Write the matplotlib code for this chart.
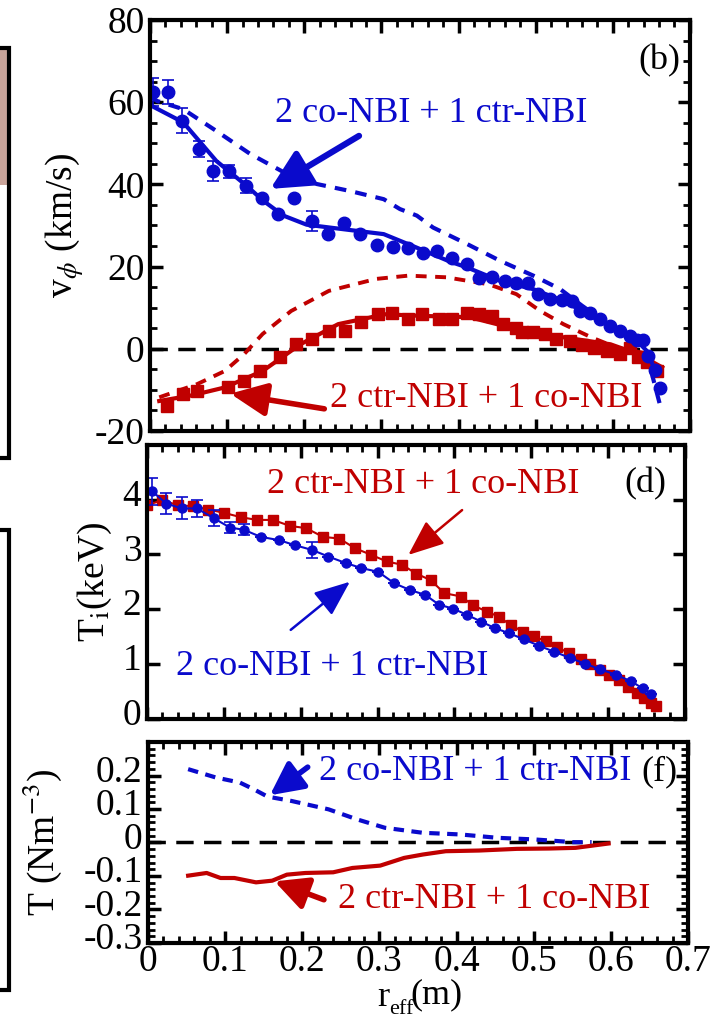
import matplotlib
matplotlib.use("Agg")
import matplotlib.pyplot as plt
from matplotlib.patches import Rectangle
from matplotlib.transforms import ScaledTranslation
from matplotlib.ticker import MultipleLocator

plt.rcParams['font.family'] = ['Liberation Serif', 'DejaVu Serif']
plt.rcParams['mathtext.fontset'] = 'stix'
plt.rcParams['axes.unicode_minus'] = False

BLUE = '#0a0acc'
RED = '#c00000'

# ---- panel (b): toroidal rotation ----
vb_r = [0.004, 0.024, 0.042, 0.063, 0.082, 0.103, 0.124, 0.145, 0.166, 0.187,
        0.210, 0.231, 0.251, 0.272, 0.294, 0.315, 0.334, 0.354, 0.372, 0.391,
        0.411, 0.426, 0.443, 0.460, 0.475, 0.490, 0.503, 0.519, 0.534, 0.547,
        0.557, 0.570, 0.583, 0.596, 0.609, 0.622, 0.631, 0.639, 0.646, 0.655, 0.661]
vb_v = [62.5, 62.5, 55.5, 48.6, 43.2, 43.2, 39.7, 36.7, 32.9, 36.8,
        31.1, 27.9, 30.7, 27.9, 25.2, 24.8, 24.6, 23.4, 23.8, 22.2,
        20.6, 17.2, 17.5, 16.4, 16.1, 15.9, 13.3, 12.1, 11.9, 11.7,
        9.2, 8.6, 7.2, 5.6, 4.4, 3.2, 2.1, 2.1, -1.7, -5.2, -9.6]
vb_err = [3.4, 2.9, 3.1, 2.0, 2.4, 1.6, 1.9, 0, 0, 0,
          2.4, 0, 0, 0, 0, 0, 0, 0, 0, 0,
          0, 0, 0, 0, 0, 0, 0, 0, 0, 0,
          0, 0, 0, 0, 0, 0, 0, 0, 0, 0, 0]

vr_r = [0.022, 0.043, 0.061, 0.101, 0.122, 0.143, 0.168, 0.189, 0.210, 0.232,
        0.253, 0.273, 0.296, 0.314, 0.335, 0.353, 0.375, 0.391, 0.411, 0.426,
        0.444, 0.458, 0.474, 0.482, 0.497, 0.512, 0.527, 0.544, 0.560, 0.575,
        0.592, 0.609, 0.622, 0.633, 0.644, 0.657]
vr_v = [-13.9, -11.0, -10.2, -9.4, -7.8, -5.5, -2.1, 1.1, 2.4, 4.4,
        4.4, 6.4, 8.4, 8.8, 7.2, 8.4, 7.2, 7.2, 8.8, 8.4,
        8.0, 6.1, 5.0, 4.0, 4.0, 3.6, 2.4, 1.9, 1.0, 0.3,
        -0.5, -1.3, 0.3, -2.1, -3.3, -5.3]

fitb_r = [0.0, 0.043, 0.086, 0.125, 0.147, 0.173, 0.203, 0.259, 0.303, 0.346,
          0.389, 0.411, 0.454, 0.497, 0.540, 0.583, 0.627, 0.644, 0.657]
fitb_v = [59.3, 55.1, 45.7, 39.7, 36.0, 32.4, 30.2, 28.9, 27.9, 24.6,
          21.2, 19.8, 16.5, 14.5, 11.3, 6.8, 2.8, -0.5, -6.2]

predb_r = [0.0, 0.009, 0.043, 0.086, 0.130, 0.173, 0.216, 0.259, 0.303, 0.324,
           0.346, 0.367, 0.411, 0.454, 0.497, 0.532, 0.560, 0.590, 0.620, 0.645, 0.661]
predb_v = [61.5, 60.3, 58.3, 53.0, 47.4, 43.0, 40.1, 38.4, 36.4, 34.0,
           32.4, 29.5, 25.5, 21.4, 17.8, 14.5, 10.5, 6.5, 3.0, -2.0, -13.5]

fitr_r = [0.012, 0.055, 0.097, 0.146, 0.195, 0.244, 0.305, 0.353, 0.414, 0.475,
          0.536, 0.597, 0.633, 0.664]
fitr_v = [-12.7, -11.3, -9.4, -5.4, 1.1, 6.0, 8.4, 8.0, 7.7, 4.8,
          2.8, 1.1, -1.3, -4.5]

predr_r = [0.012, 0.061, 0.097, 0.122, 0.146, 0.183, 0.232, 0.293, 0.335, 0.384,
           0.439, 0.475, 0.506, 0.536, 0.572, 0.605, 0.640]
predr_v = [-11.8, -8.6, -5.4, -1.3, 3.6, 9.2, 14.1, 17.0, 17.8, 17.4,
           15.7, 13.3, 9.2, 6.0, 2.8, 0.3, -1.0]

# ---- panel (d): ion temperature ----
tr_r = [0.0, 0.02, 0.04, 0.06, 0.08, 0.10, 0.122, 0.143, 0.164, 0.186,
        0.207, 0.229, 0.25, 0.271, 0.292, 0.312, 0.332, 0.35, 0.369, 0.387,
        0.409, 0.424, 0.443, 0.458, 0.473, 0.489, 0.504, 0.519, 0.534, 0.549,
        0.565, 0.577, 0.589, 0.601, 0.614, 0.626, 0.638, 0.647, 0.656, 0.662]
tr_t = [3.90, 3.99, 3.90, 3.88, 3.82, 3.76, 3.68, 3.63, 3.63, 3.52,
        3.48, 3.32, 3.29, 3.11, 2.99, 2.87, 2.81, 2.65, 2.53, 2.29,
        2.23, 2.07, 1.95, 1.86, 1.71, 1.59, 1.50, 1.41, 1.31, 1.19,
        1.08, 1.00, 0.89, 0.80, 0.70, 0.58, 0.46, 0.37, 0.28, 0.22]

tb_r = [0.007, 0.025, 0.045, 0.065, 0.087, 0.108, 0.126, 0.148, 0.172, 0.192,
        0.215, 0.236, 0.259, 0.279, 0.301, 0.322, 0.342, 0.362, 0.380, 0.398,
        0.417, 0.435, 0.453, 0.471, 0.490, 0.510, 0.530, 0.550, 0.570, 0.590,
        0.610, 0.630, 0.645, 0.656]
tb_t = [4.15, 3.93, 3.84, 3.84, 3.66, 3.49, 3.45, 3.32, 3.26, 3.17,
        3.08, 2.96, 2.84, 2.75, 2.68, 2.47, 2.35, 2.26, 2.08, 2.01,
        1.89, 1.77, 1.65, 1.56, 1.45, 1.33, 1.22, 1.11, 1.00, 0.90,
        0.80, 0.68, 0.55, 0.45]
tb_err = [0.25, 0.2, 0.2, 0.15, 0.15, 0.1, 0.1, 0, 0, 0,
          0.15, 0, 0, 0, 0, 0, 0, 0, 0, 0,
          0, 0, 0, 0, 0, 0, 0, 0, 0, 0,
          0, 0, 0, 0]

# ---- panel (f): torque ----
qb_r = [0.052, 0.088, 0.119, 0.137, 0.155, 0.186, 0.234, 0.271, 0.307, 0.356,
        0.405, 0.453, 0.502, 0.551, 0.575]
qb_t = [0.219, 0.194, 0.179, 0.159, 0.137, 0.124, 0.099, 0.069, 0.044, 0.029,
        0.024, 0.014, 0.009, 0.001, 0.001]

qr_r = [0.052, 0.076, 0.094, 0.112, 0.140, 0.161, 0.180, 0.204, 0.240, 0.265,
        0.301, 0.332, 0.356, 0.386, 0.429, 0.478, 0.520, 0.554, 0.597]
qr_t = [-0.099, -0.091, -0.106, -0.106, -0.119, -0.114, -0.096, -0.091, -0.089, -0.076,
        -0.069, -0.046, -0.036, -0.026, -0.024, -0.019, -0.018, -0.016, -0.003]

LBL_CO = '2 co-NBI + 1 ctr-NBI'
LBL_CTR = '2 ctr-NBI + 1 co-NBI'
FS = 26
W, H = 727, 1018


def style_axes(ax, ymajor, yminor):
    for s in ax.spines.values():
        s.set_linewidth(3)
    ax.set_xlim(0, 0.7)
    ax.xaxis.set_major_locator(MultipleLocator(0.1))
    ax.xaxis.set_minor_locator(MultipleLocator(0.02))
    ax.yaxis.set_major_locator(MultipleLocator(ymajor))
    if yminor:
        ax.yaxis.set_minor_locator(MultipleLocator(yminor))
    ax.tick_params(which='both', direction='in', top=True, right=True, labelsize=27)
    ax.tick_params(which='major', length=9, width=2.5, pad=4)
    ax.tick_params(which='minor', length=5, width=2)


def arrow(ax, tail, head, color, lw, hl, hw):
    ax.annotate('', xy=head, xytext=tail,
                arrowprops=dict(arrowstyle=f'-|>,head_length={hl},head_width={hw}',
                                color=color, lw=lw, mutation_scale=10,
                                shrinkA=0, shrinkB=0))


fig = plt.figure(figsize=(W / 100, H / 100), dpi=100)

# slivers of neighbouring panels on the left edge
fig.patches.append(Rectangle((-0.05, 1 - 185 / H), 0.062, 135 / H, transform=fig.transFigure,
                             facecolor='#c9a49a', edgecolor='none', zorder=0))
fig.patches.append(Rectangle((-0.05, 1 - 458 / H), 0.062, 410 / H, transform=fig.transFigure,
                             facecolor='none', edgecolor='black', lw=3, zorder=1))
fig.patches.append(Rectangle((-0.05, 1 - 990 / H), 0.062, 460 / H, transform=fig.transFigure,
                             facecolor='none', edgecolor='black', lw=3, zorder=1))

# panel (b)
ax1 = fig.add_axes([0.2063, 0.5766, 0.7427, 0.4038])
ax1.axhline(0, color='black', lw=2.5, ls=(0, (5, 3)), zorder=1)
ax1.plot(predr_r, predr_v, color=RED, lw=2.8, ls=(0, (2.8, 2.2)))
ax1.plot(fitr_r, fitr_v, color=RED, lw=3)
ax1.plot(vr_r, vr_v, 's', color=RED, ms=8.5, ls='none')
ax1.plot(predb_r, predb_v, color=BLUE, lw=3, ls=(0, (2.8, 2.2)))
ax1.plot(fitb_r, fitb_v, color=BLUE, lw=3)
ax1.errorbar(vb_r, vb_v, yerr=vb_err, fmt='o', color=BLUE, ms=9, elinewidth=1.2,
             capsize=4, capthick=1.2)
ax1.set_ylim(-20, 80)
style_axes(ax1, 20, 5)
ax1.tick_params(labelbottom=False)
ax1.set_ylabel(r'v$_{\phi}$ (km/s)', fontsize=27, labelpad=6)
ax1.text(0.364, 57.2, LBL_CO, color=BLUE, fontsize=FS, ha='center', va='center')
arrow(ax1, (0.271, 51.8), (0.156, 38.9), BLUE, 4.5, 2.4, 1.2)
ax1.text(0.436, -12.2, LBL_CTR, color=RED, fontsize=FS, ha='center', va='center')
arrow(ax1, (0.226, -14.6), (0.104, -10.9), RED, 4, 2.2, 1.0)
ax1.text(0.661, 70, '(b)', fontsize=FS, ha='center', va='center')

# panel (d)
ax2 = fig.add_axes([0.2022, 0.2942, 0.74, 0.2687])
ax2.plot(tr_r, tr_t, 's-', color=RED, ms=7.5, lw=1.5)
ax2.errorbar(tb_r, tb_t, yerr=tb_err, fmt='o-', color=BLUE, ms=6.5, lw=1.5,
             elinewidth=1.2, capsize=4, capthick=1.2)
ax2.set_ylim(0, 5)
style_axes(ax2, 1, None)
ax2.set_yticks([0, 1, 2, 3, 4])
ax2.tick_params(labelbottom=False)
ax2.set_ylabel(r'T$_{\rm i}$(keV)', fontsize=27, labelpad=6)
ax2.text(0.360, 4.27, LBL_CTR, color=RED, fontsize=FS, ha='center', va='center')
arrow(ax2, (0.41, 3.81), (0.340, 2.99), RED, 1.8, 2.2, 0.9)
ax2.text(0.241, 0.95, LBL_CO, color=BLUE, fontsize=FS, ha='center', va='center')
arrow(ax2, (0.187, 1.62), (0.264, 2.5), BLUE, 1.8, 2.2, 0.9)
ax2.text(0.649, 4.3, '(d)', fontsize=FS, ha='center', va='center')

# panel (f)
ax3 = fig.add_axes([0.2036, 0.0737, 0.7428, 0.1974])
ax3.axhline(0, color='black', lw=2.5, ls=(0, (5, 3)), zorder=1)
ax3.plot(qb_r, qb_t, color=BLUE, lw=3, ls=(0, (2.5, 1.8)))
ax3.plot(qr_r, qr_t, color=RED, lw=3)
ax3.set_ylim(-0.3, 0.3)
style_axes(ax3, 0.1, 0.02)
ax3.set_yticks([-0.3, -0.2, -0.1, 0, 0.1, 0.2])
ax3.set_yticklabels(['-0.3', '-0.2', '-0.1', '0', '0.1', '0.2'])
ax3.set_xticks([0, 0.1, 0.2, 0.3, 0.4, 0.5, 0.6, 0.7])
ax3.set_xticklabels(['0', '0.1', '0.2', '0.3', '0.4', '0.5', '0.6', '0.7'])
ax3.tick_params(axis='x', pad=1)
ax3.set_ylabel(r'T (Nm$^{-3}$)', fontsize=27, labelpad=14)
ax3.text(0.424, 0.213, LBL_CO, color=BLUE, fontsize=FS, ha='center', va='center')
arrow(ax3, (0.207, 0.225), (0.158, 0.141), BLUE, 4, 2.0, 1.0)
ax3.text(0.449, -0.171, LBL_CTR, color=RED, fontsize=FS, ha='center', va='center')
arrow(ax3, (0.228, -0.171), (0.164, -0.116), RED, 4, 2.0, 1.0)
ax3.text(0.663, 0.21, '(f)', fontsize=FS, ha='center', va='center')

# x label built from pieces, as in the original: r, deep subscript eff, (m)
fig.text(383 / W, 1 - 997 / H, 'r', fontsize=26, ha='center', va='center')
fig.text(401 / W, 1 - 1010 / H, 'eff', fontsize=16, ha='center', va='center')
fig.text(436 / W, 1 - 995 / H, '(m)', fontsize=26, ha='center', va='center')

# y tick labels of the lower panels sit slightly above their ticks
shift = ScaledTranslation(0, 7 / 100, fig.dpi_scale_trans)
for ax in (ax2, ax3):
    for lab in ax.get_yticklabels():
        lab.set_transform(lab.get_transform() + shift)

fig.savefig('out.png', dpi=100)
